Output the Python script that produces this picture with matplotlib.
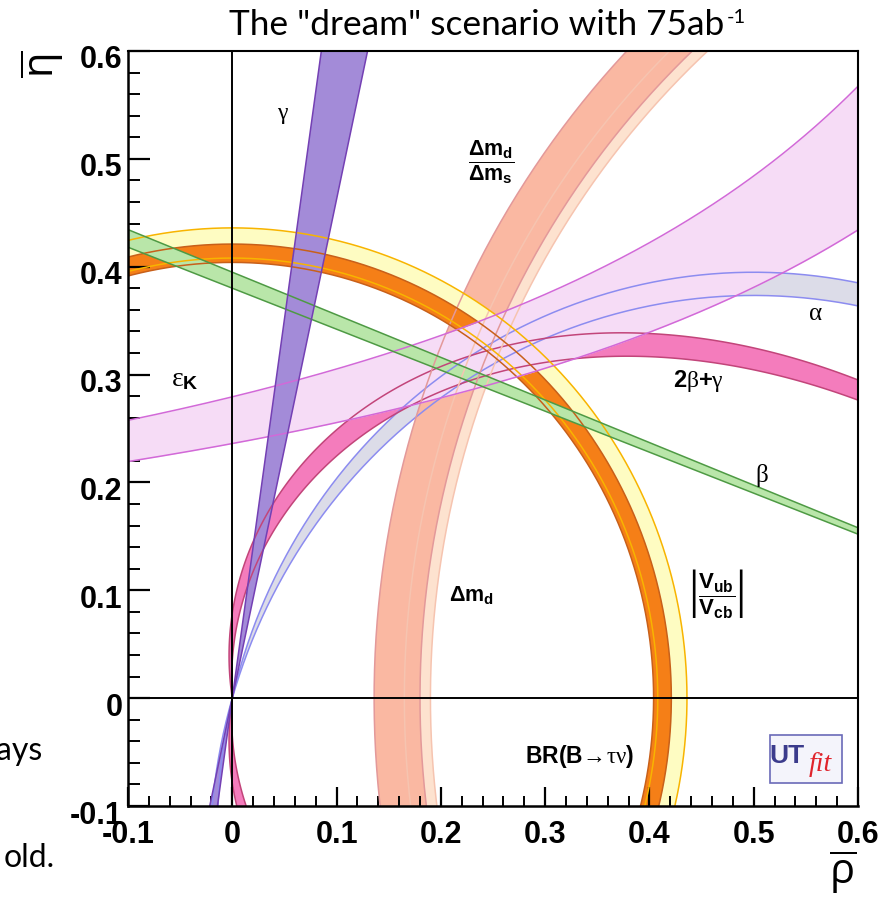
import numpy as np
import matplotlib
matplotlib.use("Agg")
import matplotlib.pyplot as plt
import matplotlib.transforms as mtransforms
from matplotlib.patches import Rectangle
from matplotlib.ticker import FixedLocator, FixedFormatter, MultipleLocator

plt.rcParams['mathtext.fontset'] = 'custom'
plt.rcParams['mathtext.rm'] = 'Liberation Serif'
plt.rcParams['mathtext.it'] = 'Liberation Serif:italic'
plt.rcParams['mathtext.bf'] = 'Liberation Sans:bold'
plt.rcParams['mathtext.sf'] = 'Open Sans'

# ---------------- data ----------------
XLIM = (-0.1, 0.6)
YLIM = (-0.1, 0.6)
XTICKS = [-0.1, 0.0, 0.1, 0.2, 0.3, 0.4, 0.5, 0.6]
XTICK_LABELS = ['-0.1', '0', '0.1', '0.2', '0.3', '0.4', '0.5', '0.6']
YTICKS = [-0.1, 0.0, 0.1, 0.2, 0.3, 0.4, 0.5, 0.6]
YTICK_LABELS = ['-0.1', '0', '0.1', '0.2', '0.3', '0.4', '0.5', '0.6']

GAMMA_DEG = [77.8, 81.9]          # gamma band (lines through (0,0))
BETA_DEG = [20.81, 21.55]         # beta band (lines through (1,0))
ALPHA_DEG = [103.4, 106.5]        # alpha band (circles through (0,0),(1,0))
TWOBG_DEG = [94.0, 99.0]          # 2beta+gamma band
VUB_YELLOW_R = [0.408, 0.436]     # |Vub/Vcb| outer band radii
VUB_ORANGE_R = [0.404, 0.421]     # |Vub/Vcb| inner band radii
DMD_R = [0.820, 0.864]            # Delta m_d radii around (1,0)
DMD_DMS_R = [0.810, 0.835]        # Delta m_d / Delta m_s radii around (1,0)
EPSK_K = [0.3104, 0.3302]         # eps_K hyperbola eta = k/(c - rho)
EPSK_C = [1.315, 1.182]

# ---------------- styles ----------------
C_GAMMA = ('#a38bd8', '#7440b4')
C_BETA = ('#b9e6a9', '#4e9a44')
C_ALPHA = ('#dcdce8', '#8c8cf0')
C_2BG = ('#f47cbc', '#c2457a')
C_VUBY = ('#fefcc2', '#f8b400')
C_VUBO = ('#f57f17', '#c8601a')
C_DMD = ('#fab8a2', '#e3999a')
C_DMDS = ('#fde2cf', '#f6c4b0')
C_EPSK = ('#f6dcf6', '#d269d8')
LW = 1.1

fig = plt.figure(figsize=(8.95, 9.0), dpi=100)
ax = fig.add_axes([128/895, 94/900, 730/895, 755/900])
ax.set_xlim(XLIM)
ax.set_ylim(YLIM)


def annulus(cx, cy, r1, r2, seam):
    t = np.linspace(seam, seam + 2*np.pi, 1441)
    xo, yo = cx + r2*np.cos(t), cy + r2*np.sin(t)
    xi, yi = cx + r1*np.cos(t[::-1]), cy + r1*np.sin(t[::-1])
    return np.r_[xo, xi], np.r_[yo, yi]


# ---- alpha (circles through (0,0) and (1,0)) ----
circ = []
for a in np.radians(ALPHA_DEG):
    circ.append((0.5/np.tan(a), 0.5/np.sin(a)))
(c1, r1), (c2, r2) = circ
th0_1 = np.arctan2(-c1, -0.5); th1_1 = np.arctan2(-c1, 0.5)
th0_2 = np.arctan2(-c2, -0.5); th1_2 = np.arctan2(-c2, 0.5)
tu1 = np.linspace(th0_1, th1_1, 600)
tu2 = np.linspace(th1_2, th0_2, 600)
xa = np.r_[0.5 + r1*np.cos(tu1), 0.5 + r2*np.cos(tu2)]
ya = np.r_[c1 + r1*np.sin(tu1), c2 + r2*np.sin(tu2)]
ax.fill(xa, ya, color=C_ALPHA[0], lw=0, zorder=1.0)
tl2 = np.linspace(th0_2, th1_2 + 2*np.pi, 600)
tl1 = np.linspace(th1_1 + 2*np.pi, th0_1, 600)
xb = np.r_[0.5 + r2*np.cos(tl2), 0.5 + r1*np.cos(tl1)]
yb = np.r_[c2 + r2*np.sin(tl2), c1 + r1*np.sin(tl1)]
ax.fill(xb, yb, color=C_ALPHA[0], lw=0, zorder=1.0)

# ---- 2beta+gamma ----
rho = np.linspace(XLIM[0], XLIM[1], 1401)
eta = np.linspace(YLIM[0], YLIM[1], 1401)
RR, EE = np.meshgrid(rho, eta)
F2 = np.abs(np.degrees(2*np.arctan2(EE, 1 - RR) + np.arctan2(EE, RR)))
ax.contourf(RR, EE, F2, levels=TWOBG_DEG, colors=[C_2BG[0]], zorder=1.1, antialiased=True)

# ---- Delta m_d / Delta m_s and Delta m_d ----
x, y = annulus(1.0, 0.0, DMD_DMS_R[0], DMD_DMS_R[1], 0.0)
ax.fill(x, y, color=C_DMDS[0], lw=0, zorder=1.2)
x, y = annulus(1.0, 0.0, DMD_R[0], DMD_R[1], 0.0)
ax.fill(x, y, color=C_DMD[0], lw=0, zorder=1.3)

# ---- |Vub/Vcb| ----
x, y = annulus(0.0, 0.0, VUB_YELLOW_R[0], VUB_YELLOW_R[1], -np.pi/2)
ax.fill(x, y, color=C_VUBY[0], lw=0, zorder=1.4)
x, y = annulus(0.0, 0.0, VUB_ORANGE_R[0], VUB_ORANGE_R[1], -np.pi/2)
ax.fill(x, y, color=C_VUBO[0], lw=0, zorder=1.5)

# ---- eps_K ----
rl = np.linspace(XLIM[0], XLIM[1], 400)
e_lo = EPSK_K[0]/(EPSK_C[0] - rl)
e_hi = EPSK_K[1]/(EPSK_C[1] - rl)
ax.fill_between(rl, e_lo, e_hi, color=C_EPSK[0], lw=0, zorder=1.6)

# ---- beta ----
L = 3.0
b1, b2 = np.radians(BETA_DEG)
ax.fill([1, 1 - L*np.cos(b1), 1 - L*np.cos(b2)], [0, L*np.sin(b1), L*np.sin(b2)],
        color=C_BETA[0], lw=0, zorder=1.7)

# ---- gamma ----
g1, g2 = np.radians(GAMMA_DEG)
for s in (1, -1):
    ax.fill([0, s*L*np.cos(g1), s*L*np.cos(g2)], [0, s*L*np.sin(g1), s*L*np.sin(g2)],
            color=C_GAMMA[0], lw=0, zorder=1.8)

# ---------------- edge lines ----------------
tt = np.linspace(0, 2*np.pi, 1441)
for c, r in circ:
    ax.plot(0.5 + r*np.cos(tt), c + r*np.sin(tt), color=C_ALPHA[1], lw=LW, zorder=2.0)
ax.contour(RR, EE, F2, levels=TWOBG_DEG, colors=[C_2BG[1]], linewidths=LW, zorder=2.1)
for r in DMD_DMS_R:
    ax.plot(1 + r*np.cos(tt), r*np.sin(tt), color=C_DMDS[1], lw=LW, zorder=2.2)
for r in DMD_R:
    ax.plot(1 + r*np.cos(tt), r*np.sin(tt), color=C_DMD[1], lw=LW, zorder=2.3)
for r in VUB_YELLOW_R:
    ax.plot(r*np.cos(tt), r*np.sin(tt), color=C_VUBY[1], lw=LW, zorder=2.4)
for r in VUB_ORANGE_R:
    ax.plot(r*np.cos(tt), r*np.sin(tt), color=C_VUBO[1], lw=LW, zorder=2.5)
ax.plot(rl, e_lo, color=C_EPSK[1], lw=LW, zorder=2.6)
ax.plot(rl, e_hi, color=C_EPSK[1], lw=LW, zorder=2.6)
for b in (b1, b2):
    ax.plot([1, 1 - L*np.cos(b)], [0, L*np.sin(b)], color=C_BETA[1], lw=LW, zorder=2.7)
for g in (g1, g2):
    ax.plot([-L*np.cos(g), L*np.cos(g)], [-L*np.sin(g), L*np.sin(g)],
            color=C_GAMMA[1], lw=LW, zorder=2.8)

ax.axhline(0, color='black', lw=1.4, zorder=3)
ax.axvline(0, color='black', lw=1.4, zorder=3)

# ---------------- labels ----------------
lab = dict(ha='center', va='center', zorder=4, color='black')
ax.text(0.0486, 0.542, r'$\mathrm{\gamma}$', fontsize=17, **lab)
ax.text(0.248, 0.497, r'$\dfrac{\mathbf{\Delta m_d}}{\mathbf{\Delta m_s}}$', fontsize=15.5, **lab)
ax.text(-0.0454, 0.2967, r'$\mathrm{\varepsilon}_{\mathbf{K}}$', fontsize=20, **lab)
ax.text(0.559, 0.357, r'$\mathrm{\alpha}$', fontsize=18, **lab)
ax.text(0.4465, 0.294, r'$\mathbf{2}\mathrm{\beta}\mathbf{{+}}\mathrm{\gamma}$', fontsize=17, **lab)
ax.text(0.508, 0.2067, r'$\mathrm{\beta}$', fontsize=18, **lab)
ax.text(0.229, 0.0946, r'$\mathbf{\Delta m_d}$', fontsize=15.5, **lab)
ax.text(0.4637, 0.0973, r'$\left|\dfrac{\mathbf{V_{ub}}}{\mathbf{V_{cb}}}\right|$', fontsize=16, **lab)
ax.text(0.333, -0.0538, r'$\mathbf{BR(B}\!\rightarrow\!\mathrm{\tau\nu}\mathbf{)}$', fontsize=16.5, **lab)

# UTfit logo
ax.add_patch(Rectangle((0.516, -0.0788), 0.069, 0.0445, transform=ax.transData,
                       fc='#f4f4fb', ec='#6a6ab8', lw=1.2, zorder=5))
ax.text(0.5318, -0.0535, 'UT', fontsize=19, fontweight='bold', family='Liberation Sans',
        color='#3b3b8c', ha='center', va='center', zorder=6)
ax.text(0.5636, -0.0617, 'fit', fontsize=20, style='italic', family='Liberation Serif',
        color='#e0242c', ha='center', va='center', zorder=6)

# ---------------- axes styling ----------------
for side in ('top', 'right'):
    ax.spines[side].set_linewidth(1.5)
for side in ('left', 'bottom'):
    ax.spines[side].set_linewidth(1.8)
for sp in ax.spines.values():
    sp.set_zorder(7)

ax.xaxis.set_major_locator(FixedLocator(XTICKS))
ax.xaxis.set_major_formatter(FixedFormatter(XTICK_LABELS))
ax.yaxis.set_major_locator(FixedLocator(YTICKS))
ax.yaxis.set_major_formatter(FixedFormatter(YTICK_LABELS))
ax.xaxis.set_minor_locator(MultipleLocator(0.02))
ax.yaxis.set_minor_locator(MultipleLocator(0.02))
ax.tick_params(axis='x', which='major', direction='in', length=14, width=1.6,
               labelsize=22, pad=10, top=False)
ax.tick_params(axis='x', which='minor', direction='in', length=7, width=1.4, top=False)
ax.tick_params(axis='y', which='major', direction='in', length=16, width=1.6,
               labelsize=22, pad=4, right=False)
ax.tick_params(axis='y', which='minor', direction='in', length=8.5, width=1.4, right=False)

fig.canvas.draw()
off = mtransforms.ScaledTranslation(0, -6/100, fig.dpi_scale_trans)
for lbl in ax.get_xticklabels() + ax.get_yticklabels():
    lbl.set_fontfamily('Liberation Sans')
    lbl.set_fontweight('bold')
for lbl in ax.get_yticklabels():
    lbl.set_transform(lbl.get_transform() + off)

# axis titles
fig.text(843/895, 1 - 872/900, r'$\overline{\mathsf{\rho}}$', fontsize=30,
         ha='center', va='center')
fig.text(42/895, 1 - 64/900, r'$\overline{\mathsf{\eta}}$', fontsize=30,
         ha='center', va='center', rotation=90)

# title and slide fragments
fig.text(724/895, 1 - 35/900, 'The "dream" scenario with 75ab',
         fontsize=25.4, family='Lato', ha='right', va='baseline')
fig.text(727/895, 1 - 23/900, '-1', fontsize=14.5, family='Lato', ha='left', va='baseline')
fig.text(42/895, 1 - 760/900, 'ays', fontsize=23, family='Lato', ha='right', va='baseline')
fig.text(55/895, 1 - 867/900, 'old.', fontsize=23, family='Lato', ha='right', va='baseline')

fig.savefig('out.png', dpi=100)
